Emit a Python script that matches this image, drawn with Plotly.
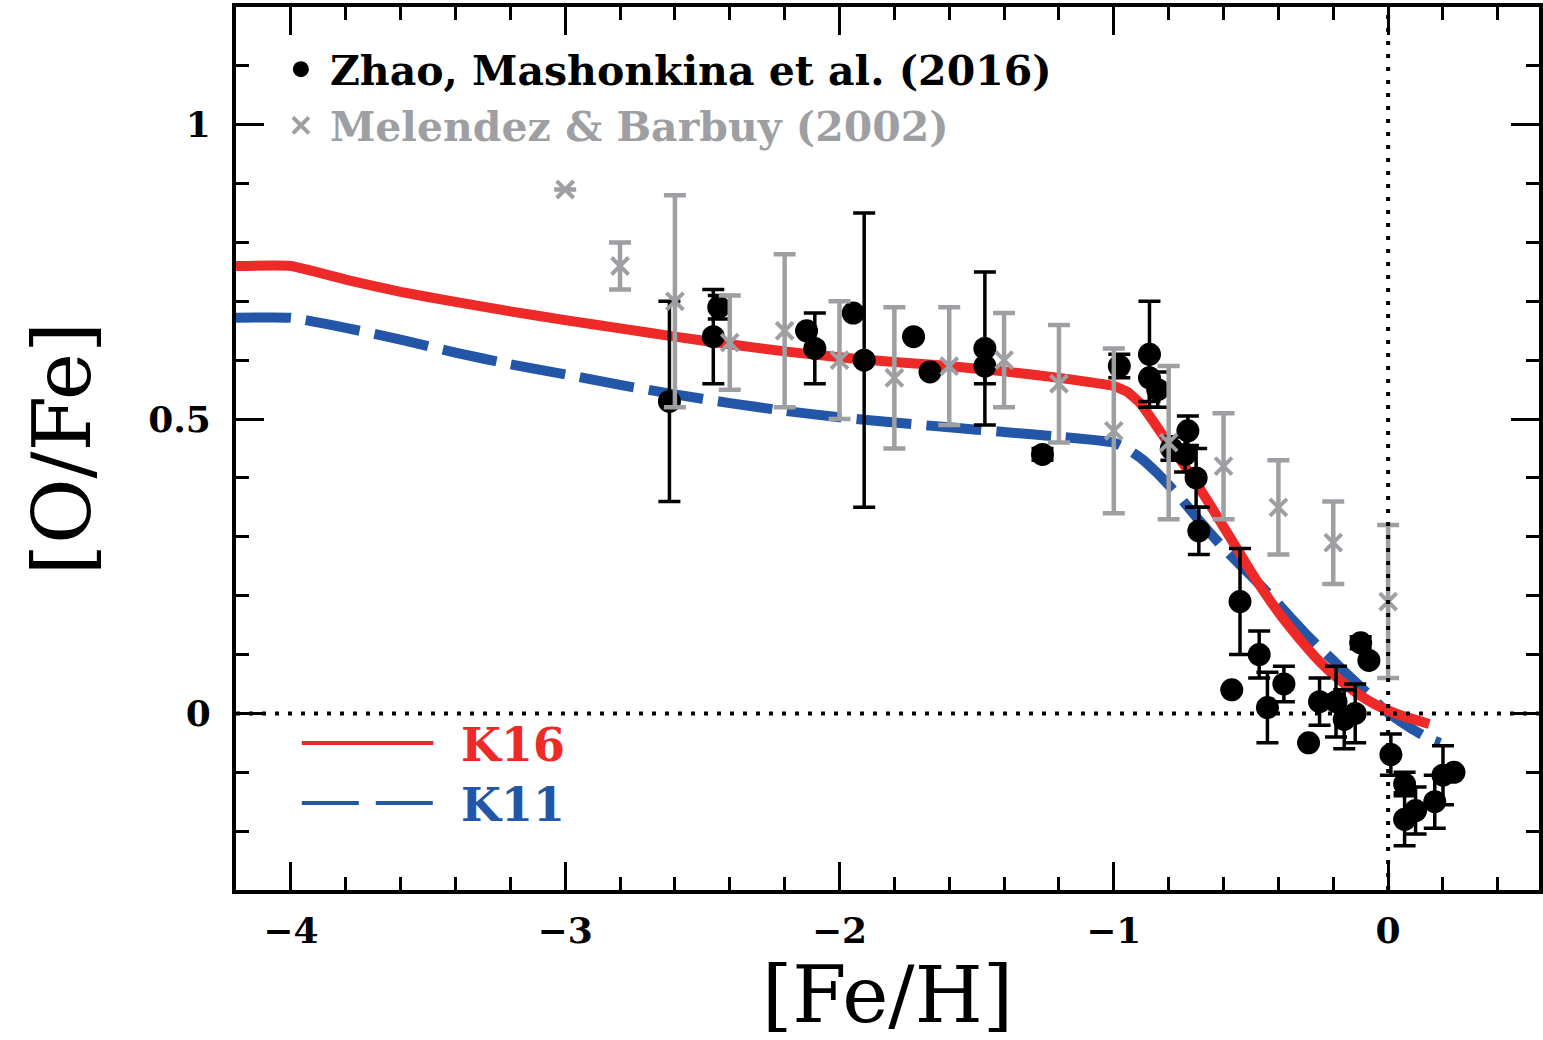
import plotly.graph_objects as go

# ---------------- data ----------------
# Model curves
k16_feh = [-4.2, -4.0, -3.8, -3.6, -3.4, -3.2, -3.0, -2.8, -2.6, -2.4, -2.2, -2.0, -1.8, -1.6,
           -1.4, -1.2, -1.0, -0.95, -0.9, -0.85, -0.8, -0.75, -0.7, -0.65, -0.6, -0.55, -0.5,
           -0.45, -0.4, -0.35, -0.3, -0.25, -0.2, -0.15, -0.1, -0.05, 0.0, 0.05, 0.1, 0.15]
k16_ofe = [0.76, 0.76, 0.737, 0.716, 0.699, 0.683, 0.668, 0.654, 0.640, 0.627, 0.615, 0.605, 0.597, 0.590,
           0.581, 0.570, 0.556, 0.546, 0.525, 0.492, 0.458, 0.426, 0.392, 0.355, 0.317, 0.279, 0.241,
           0.205, 0.172, 0.142, 0.114, 0.088, 0.066, 0.047, 0.030, 0.016, 0.005, -0.004, -0.011, -0.018]

k11_feh = [-4.2, -4.0, -3.8, -3.6, -3.4, -3.2, -3.0, -2.8, -2.6, -2.4, -2.2, -2.0, -1.8, -1.6,
           -1.4, -1.2, -1.0, -0.95, -0.9, -0.85, -0.8, -0.75, -0.7, -0.65, -0.6, -0.55, -0.5,
           -0.45, -0.4, -0.35, -0.3, -0.25, -0.2, -0.15, -0.1, -0.05, 0.0, 0.05, 0.1, 0.15, 0.19]
k11_ofe = [0.672, 0.672, 0.655, 0.635, 0.613, 0.593, 0.576, 0.558, 0.542, 0.527, 0.514, 0.503, 0.494, 0.486,
           0.478, 0.470, 0.460, 0.449, 0.433, 0.412, 0.388, 0.362, 0.334, 0.307, 0.281, 0.257, 0.234,
           0.210, 0.186, 0.160, 0.135, 0.112, 0.090, 0.067, 0.045, 0.022, 0.001, -0.015, -0.030, -0.043, -0.050]

# Zhao, Mashonkina et al. (2016)
zhao_feh = [-2.62, -2.44, -2.46, -2.12, -2.09, -1.95, -1.91, -1.73, -1.67, -1.47, -1.47, -1.26,
            -0.98, -0.87, -0.87, -0.84, -0.73, -0.79, -0.74, -0.70, -0.69, -0.54, -0.47, -0.57,
            -0.44, -0.38, -0.29, -0.25, -0.19, -0.16, -0.12, -0.10, -0.07, 0.01, 0.06, 0.06,
            0.10, 0.17, 0.20, 0.24]
zhao_ofe = [0.53, 0.69, 0.64, 0.65, 0.62, 0.68, 0.60, 0.64, 0.58, 0.62, 0.59, 0.44,
            0.59, 0.61, 0.57, 0.55, 0.48, 0.45, 0.44, 0.40, 0.31, 0.19, 0.10, 0.04,
            0.01, 0.05, -0.05, 0.02, 0.02, -0.01, 0.00, 0.12, 0.09, -0.07, -0.12, -0.18,
            -0.165, -0.15, -0.105, -0.10]
zhao_err = [0.17, 0.02, 0.08, None, 0.06, None, 0.25, None, None, 0.13, 0.03, 0.01,
            0.02, 0.09, 0.04, 0.03, 0.025, 0.02, 0.03, 0.05, 0.04, 0.09, 0.04, None,
            0.06, 0.03, None, 0.04, 0.06, 0.05, 0.05, 0.01, None, 0.035, 0.02, 0.045,
            0.04, 0.045, 0.05, None]

# Melendez & Barbuy (2002)
mb_feh = [-3.0, -2.8, -2.6, -2.4, -2.2, -2.0, -1.8, -1.6, -1.4, -1.2, -1.0, -0.8, -0.6, -0.4, -0.2, 0.0]
mb_ofe = [0.89, 0.76, 0.70, 0.63, 0.65, 0.60, 0.57, 0.59, 0.60, 0.56, 0.48, 0.46, 0.42, 0.35, 0.29, 0.19]
mb_err = [None, 0.04, 0.18, 0.08, 0.13, 0.10, 0.12, 0.10, 0.08, 0.10, 0.14, 0.13, 0.09, 0.08, 0.07, 0.13]

x_ticks = [-4, -3, -2, -1, 0]
x_ticklabels = ["\u22124", "\u22123", "\u22122", "\u22121", "0"]
y_ticks = [0, 0.5, 1]
y_ticklabels = ["0", "0.5", "1"]

# ---------------- style ----------------
RED = "#ED2A27"
BLUE = "#2356A6"
GRAY = "#9E9FA3"
FONT = "DejaVu Serif"

W, H = 1543, 1040
ML, MT, MR, MB = 236, 7, 0, 150
PW, PH = W - ML - MR, H - MT - MB


def px2paper(px, py):
    return (px - ML) / PW, (H - MB - py) / PH


fig = go.Figure()

fig.add_trace(go.Scatter(x=k11_feh, y=k11_ofe, mode="lines", showlegend=False,
                         line=dict(color=BLUE, width=10, dash="55px,15px", shape="spline", smoothing=0.4)))
fig.add_trace(go.Scatter(x=k16_feh, y=k16_ofe, mode="lines", showlegend=False,
                         line=dict(color=RED, width=10, shape="spline", smoothing=0.4)))

fig.add_trace(go.Scatter(
    x=zhao_feh, y=zhao_ofe, mode="markers", name="Zhao, Mashonkina et al. (2016)",
    marker=dict(color="black", size=23, symbol="circle"),
    error_y=dict(type="data", array=zhao_err, color="black", thickness=3.5, width=11, visible=True),
))
fig.add_trace(go.Scatter(
    x=mb_feh, y=mb_ofe, mode="markers",
    name='<span style="color:%s">Melendez &amp; Barbuy (2002)</span>' % GRAY,
    marker=dict(color=GRAY, size=17, symbol="x-thin", line=dict(color=GRAY, width=4)),
    error_y=dict(type="data", array=mb_err, color=GRAY, thickness=4.5, width=11, visible=True),
))

# dotted reference lines
fig.add_shape(type="line", xref="paper", x0=0, x1=1, yref="y", y0=0, y1=0,
              line=dict(color="black", width=4, dash="4px,9px"), layer="above")
fig.add_shape(type="line", xref="x", x0=0, x1=0, yref="paper", y0=0, y1=1,
              line=dict(color="black", width=4, dash="4px,9px"), layer="above")

# model legend (keys + labels)
x0, y_r = px2paper(302, 743)
x1, _ = px2paper(434, 743)
_, y_b = px2paper(302, 803)
fig.add_shape(type="line", xref="paper", yref="paper", x0=x0, x1=x1, y0=y_r, y1=y_r,
              line=dict(color=RED, width=4))
fig.add_shape(type="line", xref="paper", yref="paper", x0=x0, x1=x1, y0=y_b, y1=y_b,
              line=dict(color=BLUE, width=4, dash="57px,17px"))
tx, ty_r = px2paper(460, 745)
_, ty_b = px2paper(460, 805)
fig.add_annotation(x=tx, y=ty_r, xref="paper", yref="paper", text="K16", showarrow=False,
                   xanchor="left", yanchor="middle",
                   font=dict(family=FONT, size=46, color=RED, weight="bold"))
fig.add_annotation(x=tx, y=ty_b, xref="paper", yref="paper", text="K11", showarrow=False,
                   xanchor="left", yanchor="middle",
                   font=dict(family=FONT, size=46, color=BLUE, weight="bold"))

axis_common = dict(
    showline=True, linewidth=4, linecolor="black", mirror="allticks",
    ticks="inside", ticklen=28, tickwidth=3, tickcolor="black",
    showgrid=False, zeroline=False,
    tickfont=dict(family=FONT, size=36, color="black", weight="bold"),
)

lx, ly = px2paper(272, 36)
fig.update_layout(
    width=W, height=H,
    margin=dict(l=ML, r=MR, t=MT, b=MB, pad=0),
    paper_bgcolor="white", plot_bgcolor="white",
    xaxis=dict(range=[-4.2, 0.55], tickvals=x_ticks, ticktext=x_ticklabels,
               minor=dict(dtick=0.2, tick0=0, ticks="inside", ticklen=13, tickwidth=3, tickcolor="black"),
               ticklabelstandoff=6,
               title=dict(text="[Fe/H]", standoff=12,
                          font=dict(family=FONT, size=78, color="black")),
               **axis_common),
    yaxis=dict(range=[-0.3, 1.2], tickvals=y_ticks, ticktext=y_ticklabels,
               minor=dict(dtick=0.1, tick0=0, ticks="inside", ticklen=13, tickwidth=3, tickcolor="black"),
               ticklabelstandoff=14,
               title=dict(text="[O/Fe]", standoff=32,
                          font=dict(family=FONT, size=80, color="black")),
               **axis_common),
    legend=dict(x=lx, y=ly, xanchor="left", yanchor="top", bgcolor="rgba(0,0,0,0)",
                itemwidth=48, tracegroupgap=0,
                font=dict(family=FONT, size=41, color="black", weight="bold")),
    showlegend=True,
)

fig.write_html("out.html")
